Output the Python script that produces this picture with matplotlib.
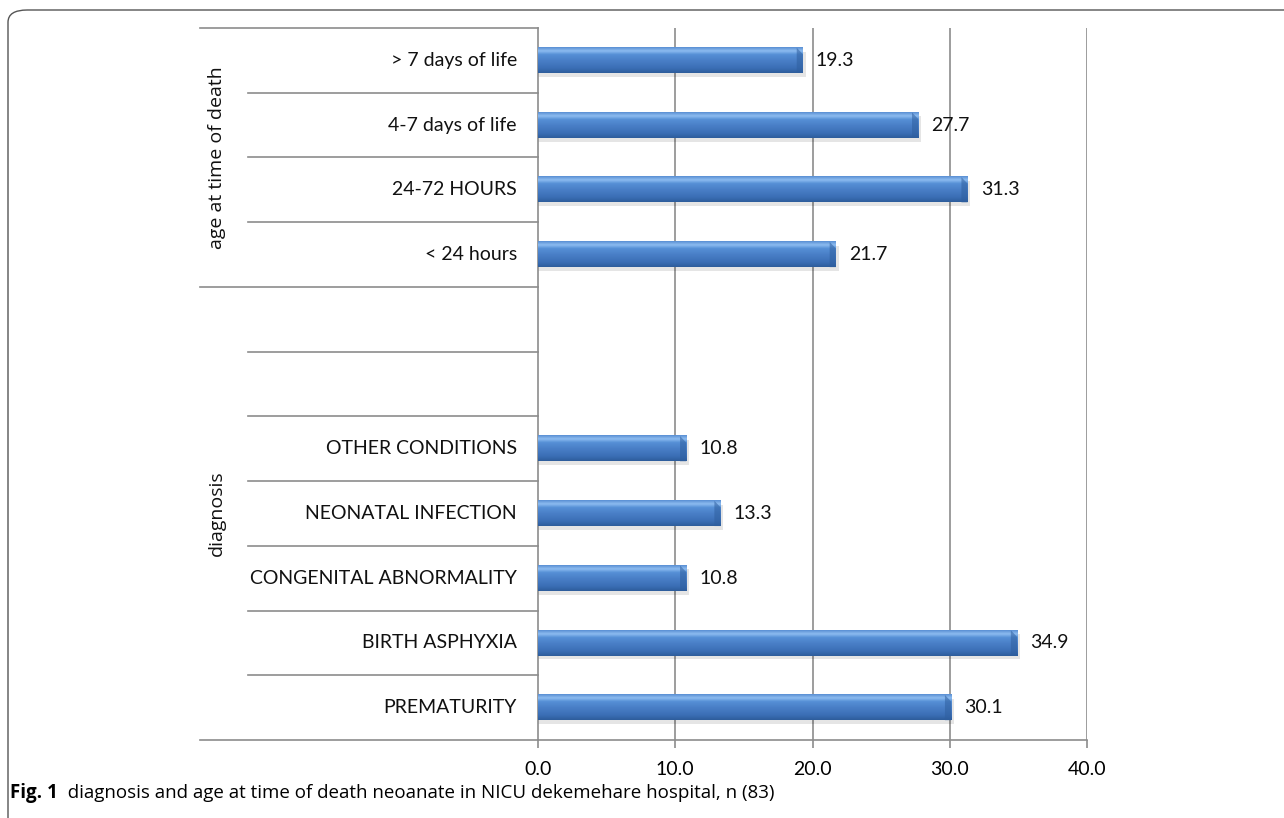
import matplotlib
matplotlib.use("Agg")
import matplotlib.pyplot as plt
import numpy as np
from matplotlib.patches import FancyBboxPatch, Polygon
from matplotlib.colors import LinearSegmentedColormap

plt.rcParams['font.family'] = ['Lato', 'DejaVu Sans']

# ---- data ----
categories = ["PREMATURITY", "BIRTH ASPHYXIA", "CONGENITAL ABNORMALITY",
              "NEONATAL INFECTION", "OTHER CONDITIONS", "", "",
              "< 24 hours", "24-72 HOURS", "4-7 days of life", "> 7 days of life"]
values = [30.1, 34.9, 10.8, 13.3, 10.8, None, None, 21.7, 31.3, 27.7, 19.3]
groups = ["diagnosis", "age at time of death"]
group_spans = [(0, 6), (7, 10)]  # inclusive index ranges of slots
xticks = [0, 10, 20, 30, 40]
xticklabels = ["0.0", "10.0", "20.0", "30.0", "40.0"]
caption_bold = "Fig. 1"
caption_text = "  diagnosis and age at time of death neoanate in NICU dekemehare hospital, n (83)"

W, H = 1284, 818
fig = plt.figure(figsize=(W / 100, H / 100), dpi=100)
ax = fig.add_axes([538 / W, 1 - 740 / H, (1087 - 538) / W, (740 - 28) / H])

grey = "#8c8c8c"
n = len(categories)
ypos = np.arange(n)
bar_h = 0.39
FS = 14

cmap = LinearSegmentedColormap.from_list(
    "bev", [(0.0, "#2e5d9c"), (0.18, "#3a6eb5"), (0.5, "#4a80c8"),
            (0.72, "#5690d6"), (0.86, "#8dbcf0"), (1.0, "#5a8fd4")])
grad = np.linspace(0, 1, 64).reshape(-1, 1)

for y, v in zip(ypos, values):
    if v is None:
        continue
    # soft shadow
    ax.barh(y - 0.06, v + 0.2, height=bar_h, left=0, color="#000000", alpha=0.10,
            zorder=2, linewidth=0)
    # gradient bar
    ax.imshow(grad, cmap=cmap, aspect="auto", origin="lower",
              extent=(0, v, y - bar_h / 2, y + bar_h / 2), zorder=3,
              interpolation="bilinear")
    # bevelled end
    e = 0.45
    ax.add_patch(Polygon([(v - e, y + bar_h / 2), (v, y + bar_h / 2 - 0.1),
                          (v, y - bar_h / 2), (v - e, y - bar_h / 2)],
                         closed=True, facecolor="#2f5f9f", alpha=0.55,
                         edgecolor="none", zorder=4))
    ax.text(v + 0.95, y, f"{v:.1f}", va="center", ha="left", fontsize=FS, color="#111111")

ax.set_xlim(0, 40)
ax.set_ylim(-0.5, n - 0.5)

# gridlines
for xt in xticks[1:]:
    ax.axvline(xt, color=grey, lw=1.2, zorder=1)

for s in ["top", "right"]:
    ax.spines[s].set_visible(False)
ax.spines["left"].set_color(grey)
ax.spines["bottom"].set_color(grey)
ax.spines["left"].set_linewidth(1.2)
ax.spines["bottom"].set_linewidth(1.2)

ax.set_xticks(xticks)
ax.set_xticklabels(xticklabels, fontsize=FS)
ax.tick_params(axis="x", direction="out", length=6, color=grey, width=1.2, pad=9)
ax.set_yticks([])

# category labels and separators (multi-level axis)
yt = ax.get_yaxis_transform()
x_outer = (200 - 538) / (1087 - 538)
x_inner = (248 - 538) / (1087 - 538)
for y, lab in zip(ypos, categories):
    ax.text(-21 / 549, y, lab, transform=yt, ha="right", va="center", fontsize=FS,
            color="#111111")

group_bounds = set()
for a, b in group_spans:
    group_bounds.add(a - 0.5)
    group_bounds.add(b + 0.5)
for k in range(n + 1):
    yb = k - 0.5
    x0 = x_outer if yb in group_bounds else x_inner
    ax.plot([x0, 0], [yb, yb], transform=yt, color=grey, lw=1.2, clip_on=False, zorder=1)

for g, (a, b) in zip(groups, group_spans):
    ax.text(-321 / 549, (a + b) / 2, g, transform=yt, rotation=90, ha="center",
            va="center", fontsize=14, color="#111111",
            family=["Open Sans", "DejaVu Sans"])

# rounded frame
frame = FancyBboxPatch((8 / W, -40 / H), (W + 40) / W, (818 - 10 + 40) / H,
                       boxstyle="round,pad=0,rounding_size=0.015",
                       transform=fig.transFigure, fill=False, edgecolor="#555555",
                       lw=1.0, clip_on=False)
fig.patches.append(frame)

# caption
yb_cap = 1 - 798 / H
t1 = fig.text(10 / W, yb_cap, caption_bold, fontsize=13.5, fontweight="bold",
              ha="left", va="baseline", family=["Open Sans", "DejaVu Sans"])
fig.canvas.draw()
bb = t1.get_window_extent()
fig.text(bb.x1 / W, yb_cap, caption_text, fontsize=13.5, ha="left",
         va="baseline", family=["Open Sans", "DejaVu Sans"])

fig.savefig("out.png", dpi=100)
